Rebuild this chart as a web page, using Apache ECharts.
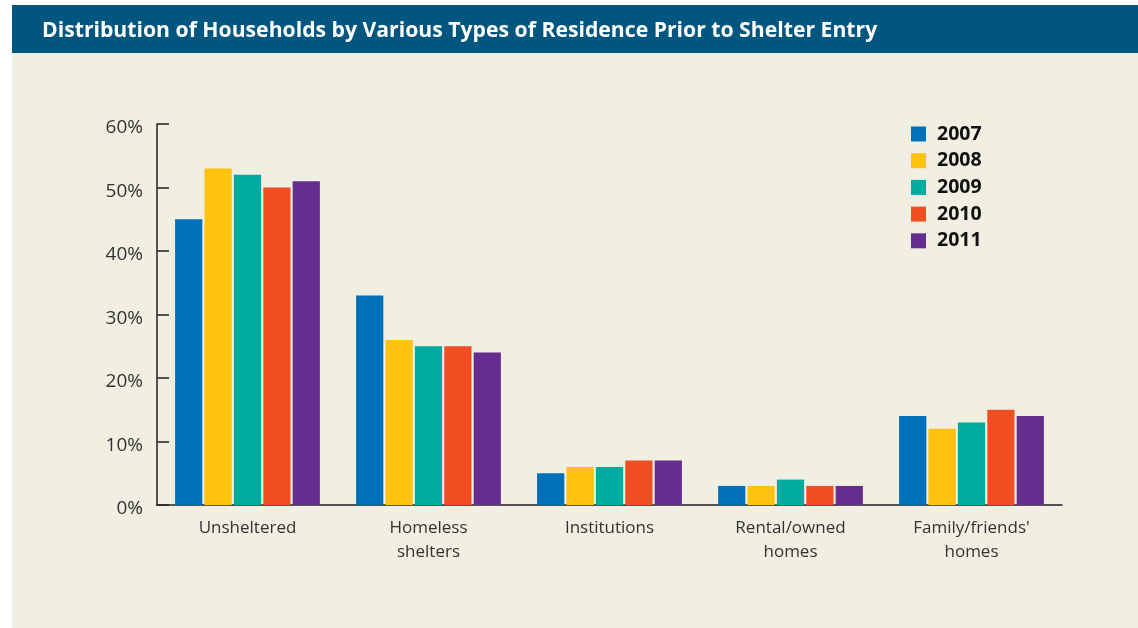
<!DOCTYPE html>
<html>
<head>
<meta charset="utf-8">
<script src="https://cdn.jsdelivr.net/npm/echarts@6/dist/echarts.min.js"></script>
<style>
  html, body { margin: 0; padding: 0; background: #ffffff; }
  #chart { width: 1138px; height: 628px; }
</style>
</head>
<body>
<div id="chart"></div>
<script>
// Household shares (%) by residence before shelter entry
const categories = ['Unsheltered', 'Homeless\nshelters', 'Institutions', 'Rental/owned\nhomes', "Family/friends'\nhomes"];
const years = ['2007', '2008', '2009', '2010', '2011'];
const values2007 = [45, 33, 5, 3, 14];
const values2008 = [53, 26, 6, 3, 12];
const values2009 = [52, 25, 6, 4, 13];
const values2010 = [50, 25, 7, 3, 15];
const values2011 = [51, 24, 7, 3, 14];
const seriesValues = [values2007, values2008, values2009, values2010, values2011];
const colors = ['#0070b8', '#ffc20e', '#00aca0', '#f04e23', '#662d91'];
const titleText = 'Distribution of Households by Various Types of Residence Prior to Shelter Entry';

const chart = echarts.init(document.getElementById('chart'), null, { renderer: 'canvas' });
const font = '"Open Sans", "Noto Sans", sans-serif';

chart.setOption({
  animation: false,
  color: colors,
  textStyle: { fontFamily: font },
  graphic: [
    { type: 'rect', z: -10, shape: { x: 12, y: 53, width: 1126, height: 575 }, style: { fill: '#f0efe1' } },
    { type: 'rect', z: -10, shape: { x: 12, y: 5, width: 1126, height: 48 }, style: { fill: '#00567f' } },
    { type: 'text', left: 42, top: 20, style: { text: titleText, fill: '#ffffff', font: 'bold 21.2px ' + font } }
  ],
  legend: {
    orient: 'vertical',
    left: 906,
    top: 119,
    itemWidth: 15,
    itemHeight: 15,
    itemGap: 6.7,
    icon: 'rect',
    data: years,
    textStyle: { fontSize: 19.5, fontWeight: 'bold', color: '#111', padding: [0, 0, 0, 6] }
  },
  grid: { left: 157, right: 76, top: 124, bottom: 123, containLabel: false },
  xAxis: {
    type: 'category',
    data: categories,
    boundaryGap: true,
    axisLine: { lineStyle: { color: '#222', width: 1.5 } },
    axisTick: { inside: true, length: 10, lineStyle: { color: '#222', width: 1.5 } },
    axisLabel: { fontSize: 17, color: '#333', margin: 11, lineHeight: 24 }
  },
  yAxis: {
    type: 'value',
    min: 0,
    max: 60,
    interval: 10,
    axisLine: { show: true, lineStyle: { color: '#222', width: 1.5 } },
    axisTick: { show: true, inside: true, length: 12, lineStyle: { color: '#222', width: 1.5 } },
    splitLine: { show: false },
    axisLabel: {
      formatter: (v) => '{v|' + v + '%}',
      margin: 14,
      rich: { v: { fontSize: 19, color: '#333', fontFamily: font, padding: [8, 0, 0, 0] } }
    }
  },
  series: years.map((y, i) => ({
    name: y,
    type: 'bar',
    data: seriesValues[i],
    barGap: '8%',
    barCategoryGap: '20%'
  }))
});
</script>
</body>
</html>
